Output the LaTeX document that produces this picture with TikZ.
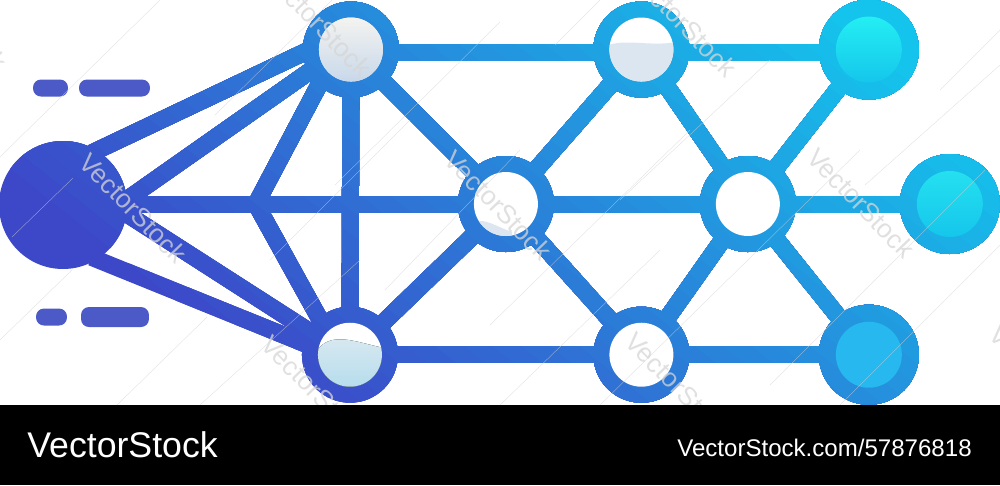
\documentclass[tikz,border=0pt]{standalone}
\usepackage{fontspec}
\setmainfont{Liberation Sans}
\usetikzlibrary{positioning}

\definecolor{netindigo}{HTML}{3C48C8}
\definecolor{netcyan}{HTML}{14C4EC}
\definecolor{dashblue}{HTML}{4C5AC8}
\definecolor{glasstop}{HTML}{F4F3F0}
\definecolor{glasslow}{HTML}{C8D8EA}
\definecolor{patchblue}{HTML}{DCE6F1}
\definecolor{icetop}{HTML}{DCEAF1}
\definecolor{icelow}{HTML}{B4DCEC}
\definecolor{glowtop}{HTML}{24EEF3}
\definecolor{glowmid}{HTML}{25E0F0}
\definecolor{glowlow}{HTML}{15C6EB}
\definecolor{glowdeep}{HTML}{26B8EE}

\tikzset{
  ringnode/.style={circle, draw=netpaint, line width=.32cm, minimum size=1.6cm, inner sep=0pt},
  endnode/.style={circle, fill=netpaint, minimum size=2cm, inner sep=0pt},
  hubnode/.style={circle, fill=netpaint, minimum size=2.56cm, inner sep=0pt},
  netline/.style={draw=netpaint, line width=.34cm, shorten <=-.12cm, shorten >=-.12cm},
  innerdisc/.style={circle, fill=white, minimum size=1.28cm, inner sep=0pt},
  enddisc/.style={circle, minimum size=1.32cm, inner sep=0pt},
  dashbar/.style={fill=dashblue, rounded corners=.16cm, inner sep=0pt, minimum height=.34cm},
  stamp/.style={anchor=west, rotate=-46, text=gray!32, opacity=.75, font=\fontsize{15}{15}\selectfont},
  hairline/.style={draw=gray!35, line width=.2pt, opacity=.7},
}

\newcommand{\drawnet}{
  \node [hubnode] at (63,205) (hub) {};
  \node [ringnode, above right=3.11cm and 5.76cm of hub] (topa) {};
  \node [ringnode, below right=2.995cm and 5.74cm of hub] (lowa) {};
  \node [ringnode, above right=.02cm and 8.86cm of hub] (mida) {};
  \node [ringnode, right=4.84cm of mida] (midb) {};
  \node [endnode, right=4.04cm of midb] (midc) {};
  \node [ringnode, right=5.81cm of topa] (topb) {};
  \node [endnode, right=4.55cm of topb] (topc) {};
  \node [ringnode, right=5.83cm of lowa] (lowb) {};
  \node [endnode, right=4.55cm of lowb] (lowc) {};
  \coordinate (fork) at (256,204);

  \draw [netline] (hub.58) -- (topa.184);
  \draw [netline] (hub.5) -- (topa.208);
  \draw [netline] (hub.-8) -- (lowa.150);
  \draw [netline] (hub.-58) -- (lowa.166);
  \draw [netline] (fork) -- (topa.228);
  \draw [netline] (fork) -- (lowa.130);
  \draw [netline] ([yshift=.02cm]hub.east) -- (mida.west);
  \draw [netline] (topa) -- (lowa);
  \draw [netline] (topa) -- (mida);
  \draw [netline] (lowa) -- (mida);
  \draw [netline] ([yshift=-.05cm]topa.east) -- ([yshift=-.05cm]topb.west);
  \draw [netline] ([yshift=-.05cm]topb.east) -- ([yshift=-.05cm]topc.west);
  \draw [netline] (lowa) -- (lowb);
  \draw [netline] (lowb) -- (lowc);
  \draw [netline] (mida) -- (midb);
  \draw [netline] (midb) -- (midc);
  \draw [netline] (mida) -- (topb);
  \draw [netline] (mida) -- (lowb);
  \draw [netline] (topb) -- (midb);
  \draw [netline] (lowb) -- (midb);
  \draw [netline] (midb) -- (topc);
  \draw [netline] (midb) -- (lowc);
}

\begin{document}
\begin{tikzpicture}[x=.02cm, y=-.02cm, on grid]
    \useasboundingbox (0,0) rectangle (1000,485);

    % the net, painted over and over in bands along the colour slope
    \colorlet{netpaint}{netindigo}
    \drawnet
    \foreach \k in {1,...,36} {
      \pgfmathsetmacro{\s}{-323+18*\k}
      \pgfmathsetmacro{\mixed}{100*\k/36}
      \begin{scope}
        \clip ({500+\s*.62+2000*.78},{170-\s*.78+2000*.62}) -- ({500+\s*.62-2000*.78},{170-\s*.78-2000*.62})
          -- ({500+(\s+3000)*.62-2000*.78},{170-(\s+3000)*.78-2000*.62})
          -- ({500+(\s+3000)*.62+2000*.78},{170-(\s+3000)*.78+2000*.62}) -- cycle;
        \colorlet{netpaint}{netcyan!\mixed!netindigo}
        \drawnet
      \end{scope}
    }

    % inner discs
    \node [innerdisc, top color=glasstop, bottom color=glasslow] at (topa) (topaface) {};
    \node [innerdisc] at (topb) (topbface) {};
    \node [innerdisc] at (mida) (midaface) {};
    \node [innerdisc] at (midb) (midbface) {};
    \node [innerdisc] at (lowa) (lowaface) {};
    \node [innerdisc] at (lowb) (lowbface) {};
    \node [enddisc, top color=glowtop, bottom color=glowlow] at (topc) (topcface) {};
    \node [enddisc, top color=glowmid, bottom color=glowlow] at (midc) (midcface) {};
    \node [enddisc, fill=glowdeep] at (lowc) (lowcface) {};

    % the tinted patches
    \begin{scope}
      \clip (topb) circle [radius=.64cm];
      \fill [patchblue] (606,46) .. controls (625,38) and (650,47) .. (676,42) -- (676,85) -- (606,85) -- cycle;
    \end{scope}
    \begin{scope}
      \clip (lowa) circle [radius=.64cm];
      \fill [top color=icetop, bottom color=icelow]
        (316,352) .. controls (330,330) and (355,342) .. (384,348) -- (384,390) -- (316,390) -- cycle;
    \end{scope}
    \begin{scope}
      \clip (mida) circle [radius=.64cm];
      \fill [patchblue] (474,222) .. controls (485,218) and (495,226) .. (512,232) -- (512,238) -- (474,238) -- cycle;
    \end{scope}

    % the four dashes on the left
    \node [dashbar, minimum width=.7cm] at (50.5,88) (dasha) {};
    \node [dashbar, minimum width=1.42cm] at (114.5,88) (dashb) {};
    \node [dashbar, minimum width=.62cm] at (51.5,317) (dashc) {};
    \node [dashbar, minimum width=1.36cm, minimum height=.4cm] at (115,317) (dashd) {};

    % stock marks
    \foreach \xa/\ya/\xb/\yb in {160/0/0/157, 73/178/12/237, 207/317/117/405, 72/270/0/340,
        332/0/215/115, 500/22/335/185, 410/120/270/260, 360/260/200/405, 520/150/385/290,
        690/130/490/325, 660/250/500/405, 860/150/600/405, 985/170/770/385, 1000/65/865/185,
        1000/245/840/405, 1000/30/940/90, 770/60/620/200, 600/0/555/45} {
      \draw [hairline] (\xa,\ya) -- (\xb,\yb);
    }
    \foreach \xs/\ys [count=\i] in {80/153, 265/-33, 445/150, 808/148, 630/-33, 262/335, 626/332, -100/-39, 990/325} {
      \node [stamp] at (\xs,\ys) (mark\i) {VectorStock};
    }

    % black strip
    \fill [black] (0,405) rectangle (1000,485);
    \node [anchor=base west, inner sep=0pt, text=white, font=\fontsize{20.3}{20.3}\selectfont] at (27,457) (brand) {VectorStock};
    \node [anchor=base east, inner sep=0pt, text=white, font=\fontsize{13.7}{13.7}\selectfont] at (972,456) (brandurl) {VectorStock.com/57876818};
  \end{tikzpicture}
\end{document}
